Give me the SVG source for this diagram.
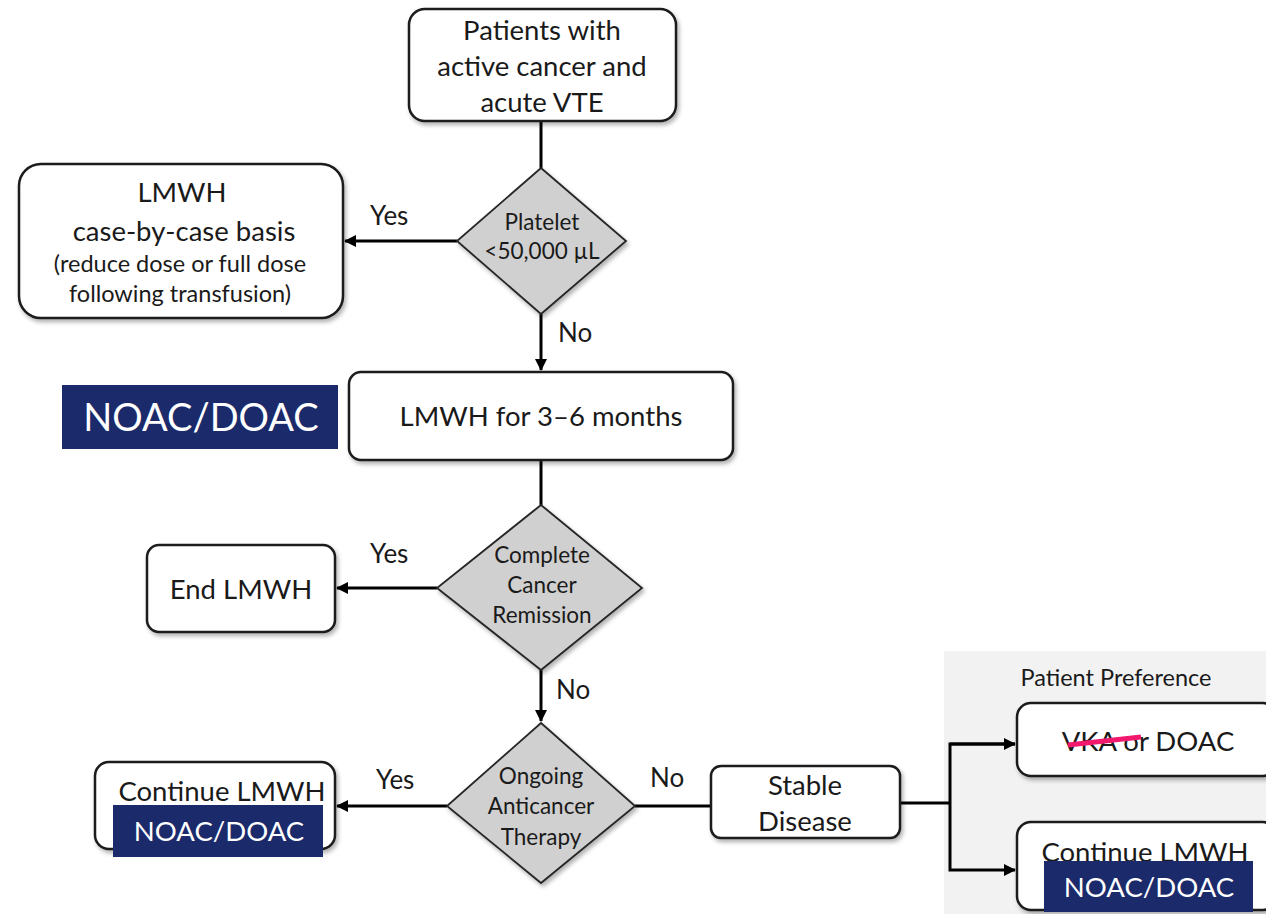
<svg xmlns="http://www.w3.org/2000/svg" width="1266" height="914" viewBox="0 0 1266 914">
<style>
text{font-family:Lato,"Open Sans","Liberation Sans",sans-serif;fill:#1a1a1a;text-anchor:middle}
.box{fill:#fff;stroke:#1a1a1a;stroke-width:2.5;filter:url(#sh)}
.dia{fill:#d0d0d0;stroke:#262626;stroke-width:1.8;filter:url(#sh)}
.ln{fill:none;stroke:#000;stroke-width:3}
.t24{font-size:27.5px}
.t20{font-size:23.5px}
.td{font-size:22.5px}
.lab{font-size:26px;text-anchor:start}
.navy{fill:#1b2a6b}
.wt{fill:#fff}
</style>
<defs>
<filter id="sh" x="-10%" y="-10%" width="125%" height="130%">
<feDropShadow dx="2" dy="3" stdDeviation="2" flood-color="#000" flood-opacity="0.3"/>
</filter>
<marker id="ah" markerWidth="12" markerHeight="12" viewBox="0 0 12 12" refX="11" refY="6" orient="auto" markerUnits="userSpaceOnUse">
<path d="M0,0 L12,6 L0,12 z" fill="#000"/>
</marker>
</defs>
<rect width="1266" height="914" fill="#fff"/>
<rect x="944" y="651" width="322" height="263" fill="#f2f2f2"/>

<g id="connectors">
<line class="ln" x1="541" y1="121" x2="541" y2="168"/>
<line class="ln" x1="457" y1="241" x2="345" y2="241" marker-end="url(#ah)"/>
<line class="ln" x1="541" y1="314" x2="541" y2="370" marker-end="url(#ah)"/>
<line class="ln" x1="541" y1="460" x2="541" y2="505"/>
<line class="ln" x1="437" y1="588" x2="337" y2="588" marker-end="url(#ah)"/>
<line class="ln" x1="541" y1="670" x2="541" y2="721" marker-end="url(#ah)"/>
<line class="ln" x1="447" y1="806" x2="337" y2="806" marker-end="url(#ah)"/>
<line class="ln" x1="635" y1="806" x2="711" y2="806"/>
<polyline class="ln" points="900,803 950,803"/>
<polyline class="ln" points="1015,744 950,744 950,870 1015,870" marker-end="url(#ah)"/>
<line class="ln" x1="950" y1="744" x2="1015" y2="744" marker-end="url(#ah)"/>
<text class="lab" x="370" y="225">Yes</text>
<text class="lab" x="558" y="342">No</text>
<text class="lab" x="370" y="563">Yes</text>
<text class="lab" x="556" y="699">No</text>
<text class="lab" x="376" y="789">Yes</text>
<text class="lab" x="650" y="787">No</text>
</g>

<g id="n-start">
<rect class="box" x="409" y="9" width="267" height="112" rx="16"/>
<text class="t24" x="542" y="40">Patients with</text>
<text class="t24" x="542" y="76">active cancer and</text>
<text class="t24" x="542" y="112">acute VTE</text>
</g>

<g id="n-platelet">
<polygon class="dia" points="541,168 626,241 541,314 457,241"/>
<text class="td" x="542" y="230">Platelet</text>
<text class="td" x="542" y="259">&lt;50,000 µL</text>
</g>

<g id="n-lmwh-case">
<rect class="box" x="19" y="164" width="324" height="154" rx="22"/>
<text class="t24" x="182" y="202">LMWH</text>
<text class="t24" x="184" y="241">case-by-case basis</text>
<text class="t20" x="180" y="272">(reduce dose or full dose</text>
<text class="t20" x="180" y="302">following transfusion)</text>
</g>

<g id="n-lmwh36">
<rect class="box" x="349" y="372" width="384" height="88" rx="12"/>
<text class="t24" x="541" y="426">LMWH for 3–6 months</text>
</g>

<g id="n-noac1">
<rect class="navy" x="62" y="385" width="276" height="64"/>
<text class="wt" x="201" y="431" style="font-size:38px">NOAC/DOAC</text>
</g>

<g id="n-remission">
<polygon class="dia" points="541,505 642,588 541,670 437,588"/>
<text class="td" x="542" y="563">Complete</text>
<text class="td" x="542" y="593">Cancer</text>
<text class="td" x="542" y="623">Remission</text>
</g>

<g id="n-end">
<rect class="box" x="147" y="545" width="188" height="87" rx="12"/>
<text class="t24" x="241" y="599">End LMWH</text>
</g>

<g id="n-ongoing">
<polygon class="dia" points="541,723 635,806 541,883 447,806"/>
<text class="td" x="541" y="784">Ongoing</text>
<text class="td" x="541" y="814">Anticancer</text>
<text class="td" x="541" y="845">Therapy</text>
</g>

<g id="n-continue1">
<rect class="box" x="95" y="762" width="240" height="87" rx="14"/>
<text class="t24" x="222" y="801">Continue LMWH</text>
<rect class="navy" x="113" y="805" width="210" height="52"/>
<text class="wt" x="219" y="841" style="font-size:27.5px">NOAC/DOAC</text>
</g>

<g id="n-stable">
<rect class="box" x="711" y="766" width="189" height="72" rx="10"/>
<text class="t24" x="805" y="795">Stable</text>
<text class="t24" x="805" y="831">Disease</text>
</g>

<g id="n-pref">
<text x="1116" y="686" style="font-size:23.5px">Patient Preference</text>
</g>

<g id="n-vka">
<rect class="box" x="1017" y="703" width="260" height="73" rx="14"/>
<text class="t24" x="1148" y="751">VKA or DOAC</text>
<line x1="1068" y1="745" x2="1141" y2="737" stroke="#f0196e" stroke-width="5"/>
</g>

<g id="n-continue2">
<rect class="box" x="1017" y="822" width="260" height="88" rx="14"/>
<text class="t24" x="1145" y="862">Continue LMWH</text>
<rect class="navy" x="1044" y="861" width="209" height="51"/>
<text class="wt" x="1149" y="897" style="font-size:27.5px">NOAC/DOAC</text>
</g>
</svg>
